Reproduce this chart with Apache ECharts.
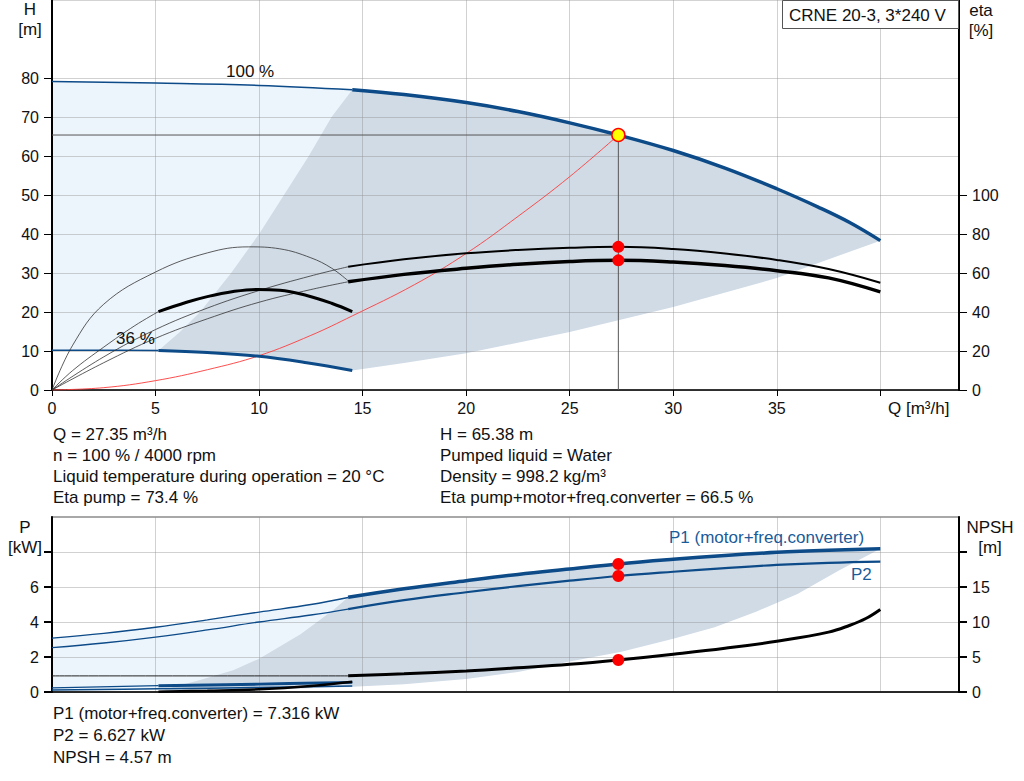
<!DOCTYPE html>
<html><head><meta charset="utf-8">
<script src="https://cdn.jsdelivr.net/npm/echarts@6/dist/echarts.min.js"></script>
<style>html,body{margin:0;padding:0;background:#fff}#c{width:1024px;height:781px}</style>
</head><body><div id="c"></div>
<script>
// ---------- data (Q in m3/h) ----------
const qTicks = [0,5,10,15,20,25,30,35,40];
const qLabels = [0,5,10,15,20,25,30,35];
const hTicks = [0,10,20,30,40,50,60,70,80];
const etaTicks = [0,20,40,60,80,100];
const pTicks = [0,2,4,6,8];
const pLabels = [0,2,4,6];
const npshTicks = [0,5,10,15,20];
const npshLabels = [0,5,10,15];

// head curves [Q, H]
const qh100Thin = [[0,79.1],[5,78.7],[10,78.1],[14.5,77.0]];
const qh100 = [[14.5,77.0],[17,75.75],[20,73.7],[22.5,71.4],[25,68.5],[27.35,65.38],[30,61.4],[32.5,56.9],[35,51.6],[37,46.9],[38.5,43.0],[40,38.3]];
const qh36Thin = [[0,10.2],[2.5,10.2],[5.14,10.1]];
const qh36 = [[5.14,10.1],[7.5,9.6],[9.9,8.7],[12.3,7.0],[14.5,5.0]];
const rangeLeft = [[5.14,10.1],[6.2,15],[7.15,20],[7.9,25],[8.65,30],[10.0,40],[11.2,50],[12.4,60],[13.5,70],[14.5,77.0]];
const rangeBottom = [[14.5,5.0],[17,6.9],[20,9.4],[25,14.9],[30,21.3],[35,28.7],[40,38.3]];
const systemCurve = [[0,0],[2.5,0.6],[5,2.4],[7.5,5.2],[10,8.8],[12.5,14.0],[14.5,19.0],[17.5,27.0],[20,35.0],[22.5,44.5],[25,54.7],[27.35,65.38]];

// efficiency curves [Q, eta %]
const etaPumpThin = [[0,0],[2.5,17],[5,31],[7.5,42],[10,51],[12.5,58.5],[14.3,63.2]];
const etaPump = [[14.3,63.2],[17,67],[20,70.1],[22.5,71.8],[25,72.9],[27.35,73.4],[30,72.3],[32.5,70],[35,66.7],[37.5,62],[40,55.0]];
const etaTotalThin = [[0,0],[2.5,14],[5,26.5],[7.5,36.5],[10,45],[12.5,51.5],[14.3,55.5]];
const etaTotal = [[14.3,55.5],[17,59.3],[20,62.4],[22.5,64.5],[25,65.9],[27.35,66.5],[30,65.6],[32.5,63.8],[35,61.2],[37.5,57.5],[40,50.3]];
const etaPump36 = [[0,0],[1,23],[2.5,44],[5,60.5],[7.5,70.3],[9.5,73.4],[11,72.4],[12.5,67.8],[13.5,62.5],[14.3,56]];
const etaTotal36Thin = [[0,0],[1,10],[2.5,22],[4,33],[5.14,40.2]];
const etaTotal36 = [[5.14,40.2],[6.5,45],[7.5,47.9],[8.75,50.5],[9.9,51.6],[11,51.2],[12.3,48.5],[13.5,44.5],[14.5,40.2]];

// power curves [Q, kW]
const p1Thin = [[0,3.08],[2.5,3.35],[5,3.7],[7.5,4.12],[10,4.57],[12.5,5.0],[14.3,5.4]];
const p1 = [[14.3,5.41],[17,5.9],[20,6.36],[22.5,6.72],[25,7.03],[27.35,7.316],[30,7.58],[32.5,7.8],[35,7.98],[37.5,8.1],[40,8.18]];
const p2Thin = [[0,2.53],[2.5,2.8],[5,3.14],[7.5,3.55],[10,4.0],[12.5,4.4],[14.3,4.74]];
const p2 = [[14.3,4.74],[17,5.25],[20,5.7],[22.5,6.05],[25,6.36],[27.35,6.627],[30,6.87],[32.5,7.08],[35,7.26],[37.5,7.38],[40,7.45]];
const p1MinThin = [[0,0.23],[5.14,0.36]];
const p1Min = [[5.14,0.36],[10,0.45],[14.5,0.55]];
const p2Min = [[0,0.11],[5.14,0.18],[10,0.26],[14.5,0.34]];
const pRangeLeft = [[5.14,0.05],[7.15,0.68],[8.75,1.25],[10,1.9],[12,3.3],[13.6,4.7],[14.3,5.41]];
const pRangeBottom = [[14.5,0.3],[17,0.45],[20,0.75],[22.5,1.15],[25,1.75],[27.5,2.3],[30,3.05],[32,3.7],[34,4.59],[36,5.6],[38,6.95],[40,8.18]];
const pRangeMinBottom = [[5.14,0.05],[10,0.12],[14.5,0.3]];

// NPSH [Q, m]
const npshThin = [[0,2.3],[14.3,2.3]];
const npsh = [[14.3,2.33],[17,2.6],[20,3.0],[22.5,3.45],[25,3.95],[27.35,4.57],[30,5.4],[32.5,6.25],[35,7.25],[37.5,8.55],[38.5,9.5],[39.3,10.5],[40,11.8]];
const npshMin = [[5.14,0.05],[7.5,0.18],[10,0.38],[12.5,0.86],[14.5,1.47]];

// duty point
const dutyQ = 27.35, dutyH = 65.38, dutyEtaPump = 73.4, dutyEtaTotal = 66.5;
const dutyP1 = 7.316, dutyP2 = 6.627, dutyNpsh = 4.57;

// ---------- styling ----------
const BLUE = '#0c4a88', TXTBLUE = '#1b5b98', GREYFILL = '#d0dbe6', LIGHTFILL = '#edf5fc';
const FONT = '"Liberation Sans", Arial, sans-serif';
const rev = a => a.slice().reverse();

function poly(pts, xi, yi, color){
  return {type:'custom', xAxisIndex:xi, yAxisIndex:yi, z:1, silent:true, animation:false, data:[[0,0]],
    renderItem:function(params, api){
      return {type:'polygon', shape:{points: pts.map(p => api.coord(p))}, style:{fill:color}};
    }};
}
function line(data, xi, yi, color, w, smooth){
  return {type:'line', xAxisIndex:xi, yAxisIndex:yi, data:data, showSymbol:false, symbol:'none',
    smooth: smooth === undefined ? 0.4 : smooth, lineStyle:{color:color, width:w}, z:3, silent:true, animation:false};
}
function dots(data, xi, yi, size, fill, border){
  return {type:'scatter', xAxisIndex:xi, yAxisIndex:yi, data:data, symbolSize:size, z:5, silent:true, animation:false,
    itemStyle:{color:fill, borderColor:border||fill, borderWidth:border?1.5:0, opacity:1}};
}
function txt(text, x, y, opts){
  opts = opts || {};
  return {type:'text', x:x, y:y, z:10, silent:true, style:{text:text, fill:opts.fill||'#111', fontSize:opts.size||17,
    fontFamily:FONT, textAlign:opts.align||'left', textVerticalAlign:'middle'}};
}

const axisLbl = {fontSize:16, fontFamily:FONT, color:'#111'};
const split = {show:true, lineStyle:{color:'rgba(140,140,140,0.4)', width:1}};

const option = {
  animation:false,
  grid:[
    {left:52, top:0, width:907, height:390, show:true, borderColor:'#a8a8a8', borderWidth:1, backgroundColor:'#fff', z:0},
    {left:52, top:517, width:907, height:175, show:true, borderColor:'#a8a8a8', borderWidth:2, backgroundColor:'#fff', z:0}
  ],
  xAxis:[
    {type:'value', gridIndex:0, min:0, max:43.8, interval:5, z:2,
     axisLine:{lineStyle:{color:'#000', width:1.5}},
     axisTick:{show:true, length:6, customValues:qTicks, lineStyle:{color:'#000'}},
     axisLabel:Object.assign({margin:10, customValues:qLabels}, axisLbl),
     splitLine:split},
    {type:'value', gridIndex:1, min:0, max:43.8, interval:5, z:2,
     axisLine:{lineStyle:{color:'#000', width:1.5}},
     axisTick:{show:false}, axisLabel:{show:false}, splitLine:split}
  ],
  yAxis:[
    {type:'value', gridIndex:0, min:0, max:100, interval:10, position:'left', z:2,
     axisLine:{show:true, lineStyle:{color:'#000', width:2}},
     axisTick:{show:true, length:8, customValues:hTicks, lineStyle:{color:'#000'}},
     axisLabel:Object.assign({margin:13, customValues:hTicks}, axisLbl),
     splitLine:split},
    {type:'value', gridIndex:0, min:0, max:200, interval:20, position:'right', z:2,
     axisLine:{show:true, lineStyle:{color:'#000', width:2}},
     axisTick:{show:true, length:8, customValues:etaTicks, lineStyle:{color:'#000'}},
     axisLabel:Object.assign({margin:13, customValues:etaTicks}, axisLbl),
     splitLine:{show:false}},
    {type:'value', gridIndex:1, min:0, max:10, interval:2, position:'left', z:2,
     axisLine:{show:true, lineStyle:{color:'#000', width:2}},
     axisTick:{show:true, length:8, customValues:pTicks, lineStyle:{color:'#000', width:2}},
     axisLabel:Object.assign({margin:13, customValues:pLabels}, axisLbl),
     splitLine:split},
    {type:'value', gridIndex:1, min:0, max:25, interval:5, position:'right', z:2,
     axisLine:{show:true, lineStyle:{color:'#000', width:2}},
     axisTick:{show:true, length:8, customValues:npshTicks, lineStyle:{color:'#000', width:2}},
     axisLabel:Object.assign({margin:13, customValues:npshLabels}, axisLbl),
     splitLine:{show:false}}
  ],
  series:[
    // upper shaded areas
    poly(qh100Thin.concat([[14.5,5.0]], rev(qh36), rev(qh36Thin)), 0, 0, LIGHTFILL),
    poly(rangeLeft.concat(qh100, rev(rangeBottom), rev(qh36)), 0, 0, GREYFILL),
    // lower shaded areas
    poly(p1Thin.concat([[14.3,0.3]], rev(p2Min)), 1, 2, LIGHTFILL),
    poly(pRangeLeft.concat(p1, rev(pRangeBottom), rev(pRangeMinBottom)), 1, 2, GREYFILL),

    // upper: system curve & duty lines
    line(systemCurve, 0, 0, '#ff3b3b', 0.9),
    line([[0,dutyH],[dutyQ,dutyH]], 0, 0, '#555', 1, false),
    line([[dutyQ,dutyH],[dutyQ,0]], 0, 0, '#555', 1, false),
    // head curves
    line(qh100Thin, 0, 0, BLUE, 1.5),
    line(qh100, 0, 0, BLUE, 3.5),
    line(qh36Thin, 0, 0, BLUE, 1.5),
    line(qh36, 0, 0, BLUE, 3),
    // eta curves
    line(etaPumpThin, 0, 1, '#333', 0.8),
    line(etaTotalThin, 0, 1, '#333', 0.8),
    line(etaPump36, 0, 1, '#333', 0.8),
    line(etaTotal36Thin, 0, 1, '#333', 0.8),
    line(etaPump, 0, 1, '#000', 2),
    line(etaTotal, 0, 1, '#000', 3.5),
    line(etaTotal36, 0, 1, '#000', 3),
    dots([[dutyQ,dutyEtaPump],[dutyQ,dutyEtaTotal]], 0, 1, 12, '#ff0000'),
    dots([[dutyQ,dutyH]], 0, 0, 13, '#ffff00', '#ff0000'),

    // lower: power curves
    line(p1Thin, 1, 2, BLUE, 1.3),
    line(p2Thin, 1, 2, BLUE, 1.3),
    line(p1, 1, 2, BLUE, 3.5),
    line(p2, 1, 2, BLUE, 2.2),
    line(p1MinThin, 1, 2, BLUE, 1.3),
    line(p1Min, 1, 2, BLUE, 3),
    line(p2Min, 1, 2, BLUE, 1.5),
    line(npshThin, 1, 3, '#222', 1),
    line(npsh, 1, 3, '#000', 3),
    line(npshMin, 1, 3, '#000', 2.5),
    dots([[dutyQ,dutyP1],[dutyQ,dutyP2]], 1, 2, 12, '#ff0000'),
    dots([[dutyQ,dutyNpsh]], 1, 3, 12, '#ff0000')
  ],
  graphic:[
    {type:'rect', z:9, silent:true, shape:{x:782.5, y:0.5, width:176, height:28}, style:{fill:'#fff', stroke:'#555', lineWidth:1}},
    txt('CRNE 20-3, 3*240 V', 789, 15),
    txt('H', 30, 9, {align:'center'}),
    txt('[m]', 30, 29, {align:'center'}),
    txt('eta', 981, 10, {align:'center'}),
    txt('[%]', 981, 30, {align:'center'}),
    txt('100 %', 226, 71),
    txt('36 %', 116, 338),
    txt('Q [m³/h]', 888, 408),
    txt('Q = 27.35 m³/h', 53, 434),
    txt('n = 100 % / 4000 rpm', 53, 455),
    txt('Liquid temperature during operation = 20 °C', 53, 476),
    txt('Eta pump = 73.4 %', 53, 497),
    txt('H = 65.38 m', 440, 434),
    txt('Pumped liquid = Water', 440, 455),
    txt('Density = 998.2 kg/m³', 440, 476),
    txt('Eta pump+motor+freq.converter = 66.5 %', 440, 497),
    txt('P', 25, 527, {align:'center'}),
    txt('[kW]', 25, 547, {align:'center'}),
    txt('NPSH', 990, 527, {align:'center'}),
    txt('[m]', 990, 547, {align:'center'}),
    txt('P1 (motor+freq.converter)', 669, 537, {fill:TXTBLUE}),
    txt('P2', 851, 574, {fill:TXTBLUE}),
    txt('P1 (motor+freq.converter) = 7.316 kW', 53, 713),
    txt('P2 = 6.627 kW', 53, 735),
    txt('NPSH = 4.57 m', 53, 757)
  ]
};
const chart = echarts.init(document.getElementById('c'), null, {renderer:'svg'});
chart.setOption(option);
</script>
</body></html>
